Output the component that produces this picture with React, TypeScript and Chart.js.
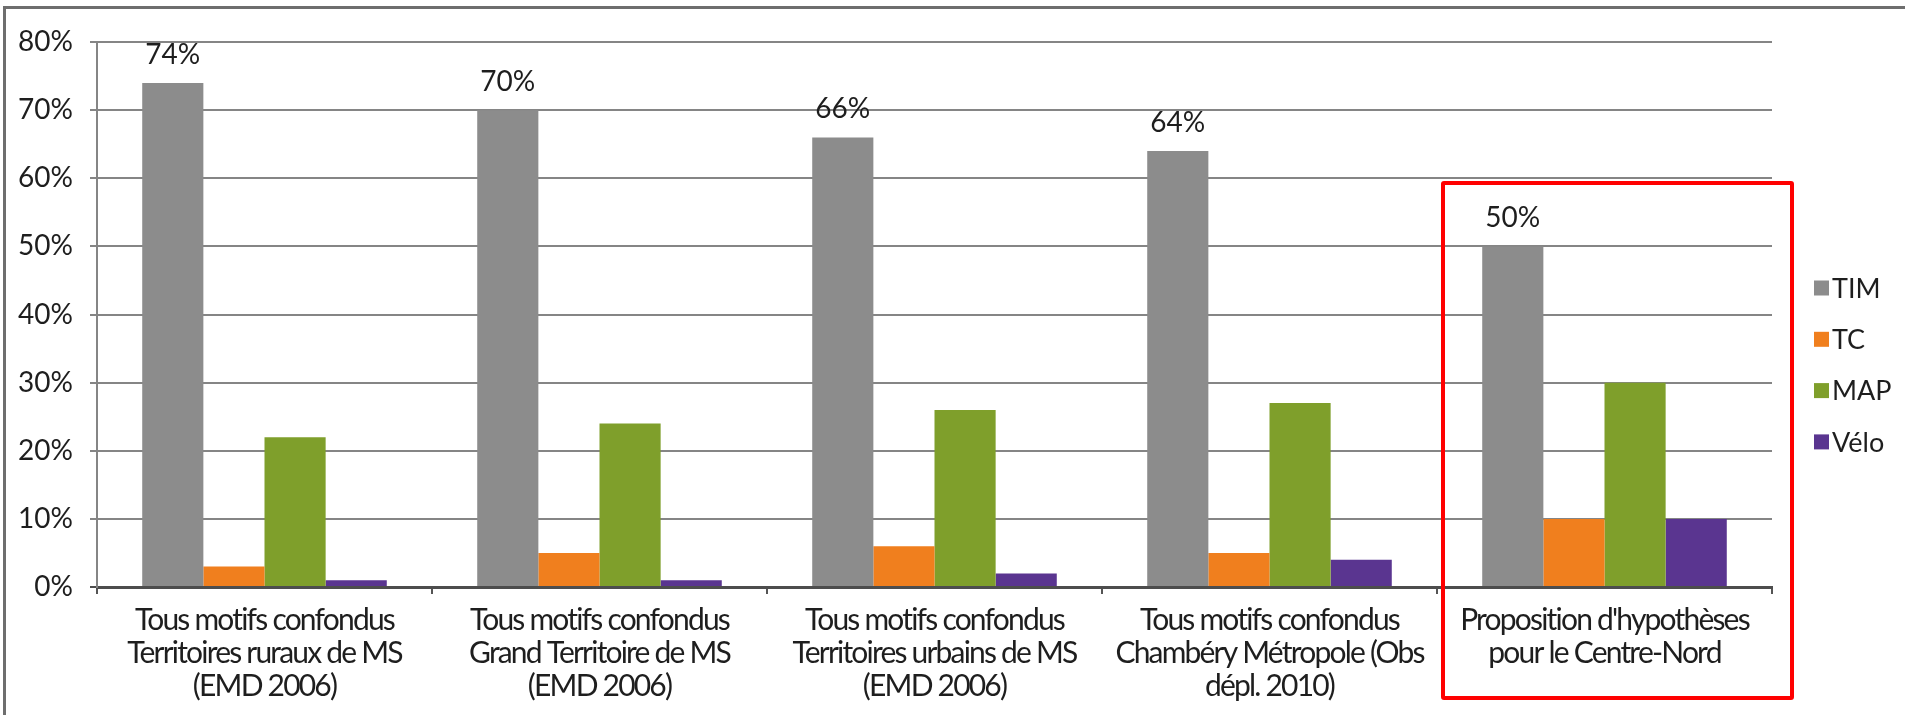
import React, { useEffect, useRef } from "react";
import { Chart, registerables } from "chart.js";

Chart.register(...registerables);

const categories: string[][] = [
  ["Tous motifs confondus", "Territoires ruraux de MS", "(EMD 2006)"],
  ["Tous motifs confondus", "Grand Territoire de MS", "(EMD 2006)"],
  ["Tous motifs confondus", "Territoires urbains de MS", "(EMD 2006)"],
  ["Tous motifs confondus", "Chambéry Métropole (Obs", "dépl. 2010)"],
  ["Proposition d'hypothèses", "pour le Centre-Nord"],
];
const seriesNames = ["TIM", "TC", "MAP", "Vélo"];
const seriesColors = ["#8c8c8c", "#f07f1e", "#7f9f2b", "#5a3590"];
const timValues = [74, 70, 66, 64, 50];
const tcValues = [3, 5, 6, 5, 10];
const mapValues = [22, 24, 26, 27, 30];
const veloValues = [1, 1, 2, 4, 10];
const yMin = 0;
const yMax = 80;
const yStep = 10;

const NUM_FONT = "Lato, 'DejaVu Sans', sans-serif";
const LABEL_FONT = "Lato, sans-serif";
const TEXT_COLOR = "#1e1e1e";

const valueLabelPlugin = {
  id: "valueLabels",
  afterDatasetsDraw(chart: any) {
    const ctx = chart.ctx;
    const meta = chart.getDatasetMeta(0);
    const data = chart.data.datasets[0].data as number[];
    ctx.save();
    ctx.font = `28px ${NUM_FONT}`;
    ctx.fillStyle = TEXT_COLOR;
    ctx.textAlign = "center";
    ctx.textBaseline = "alphabetic";
    meta.data.forEach((bar: any, i: number) => {
      ctx.fillText(`${data[i]}%`, bar.x, bar.y - 19);
    });
    ctx.restore();
  },
};

const legendPlugin = {
  id: "sideLegend",
  afterDraw(chart: any) {
    const ctx = chart.ctx;
    const area = chart.chartArea;
    const x0 = area.right + 42;
    const y0 = 288;
    const step = 51.3;
    ctx.save();
    ctx.font = `27px ${NUM_FONT}`;
    ctx.textAlign = "left";
    ctx.textBaseline = "middle";
    chart.data.datasets.forEach((ds: any, i: number) => {
      const yc = y0 + i * step;
      ctx.fillStyle = ds.backgroundColor;
      ctx.fillRect(x0, yc - 7.5, 15, 15);
      ctx.fillStyle = TEXT_COLOR;
      ctx.fillText(ds.label, x0 + 18, yc + 1);
    });
    ctx.restore();
  },
};

function tightenLabels(scale: any) {
  if (scale.__tight) return;
  scale.__tight = true;
  const orig = scale.drawLabels;
  scale.drawLabels = function (area: any) {
    const ctx = this.ctx;
    ctx.save();
    ctx.letterSpacing = "-1.8px";
    orig.call(this, area);
    ctx.restore();
  };
}

export default function App() {
  const canvasRef = useRef<HTMLCanvasElement | null>(null);

  useEffect(() => {
    const canvas = canvasRef.current;
    if (!canvas) return;
    const values = [timValues, tcValues, mapValues, veloValues];
    const chart = new Chart(canvas, {
      type: "bar",
      data: {
        labels: categories,
        datasets: seriesNames.map((name, i) => ({
          label: name,
          data: values[i],
          backgroundColor: seriesColors[i],
          borderWidth: 0,
          categoryPercentage: 0.73,
          barPercentage: 1,
        })),
      },
      options: {
        responsive: false,
        devicePixelRatio: 1,
        animation: false,
        events: [],
        layout: { padding: { top: 42, left: 0, right: 133, bottom: 0 } },
        plugins: {
          legend: { display: false },
          tooltip: { enabled: false },
          title: { display: false },
        },
        scales: {
          x: {
            offset: true,
            afterFit: (scale: any) => {
              scale.height = 128;
              tightenLabels(scale);
            },
            grid: {
              offset: true,
              drawOnChartArea: false,
              drawTicks: true,
              tickLength: 7,
              color: "#555555",
              lineWidth: 2,
            },
            border: { display: true, color: "#4d4d4d", width: 3 },
            ticks: {
              autoSkip: false,
              maxRotation: 0,
              minRotation: 0,
              padding: 10,
              color: TEXT_COLOR,
              font: { family: LABEL_FONT, size: 30, lineHeight: 1.1 },
            },
          },
          y: {
            min: yMin,
            max: yMax,
            afterFit: (scale: any) => {
              scale.width = 97;
            },
            grid: {
              color: (c: any) => (c.tick && c.tick.value === 0 ? "#4d4d4d" : "#858585"),
              lineWidth: 2,
              drawTicks: true,
              tickLength: 7,
            },
            border: { display: true, color: "#858585", width: 2 },
            ticks: {
              stepSize: yStep,
              padding: 17,
              color: TEXT_COLOR,
              font: { family: NUM_FONT, size: 28 },
              callback: (v: any) => `${v}%`,
            },
          },
        },
      },
      plugins: [valueLabelPlugin, legendPlugin],
    });
    return () => chart.destroy();
  }, []);

  return (
    <div style={{ position: "absolute", left: 0, top: 0, width: 1905, height: 715, background: "#fff", overflow: "hidden" }}>
      <canvas ref={canvasRef} width={1905} height={715} style={{ display: "block", width: 1905, height: 715 }} />
      <div
        style={{
          position: "absolute",
          left: 3,
          top: 6,
          width: 1902,
          height: 709,
          borderTop: "3px solid #6e6e6e",
          borderLeft: "3px solid #6e6e6e",
          boxSizing: "border-box",
          pointerEvents: "none",
        }}
      />
      <div
        style={{
          position: "absolute",
          left: 1441,
          top: 181,
          width: 353,
          height: 519,
          border: "4px solid #ff0000",
          borderRadius: 3,
          boxSizing: "border-box",
          pointerEvents: "none",
        }}
      />
    </div>
  );
}
